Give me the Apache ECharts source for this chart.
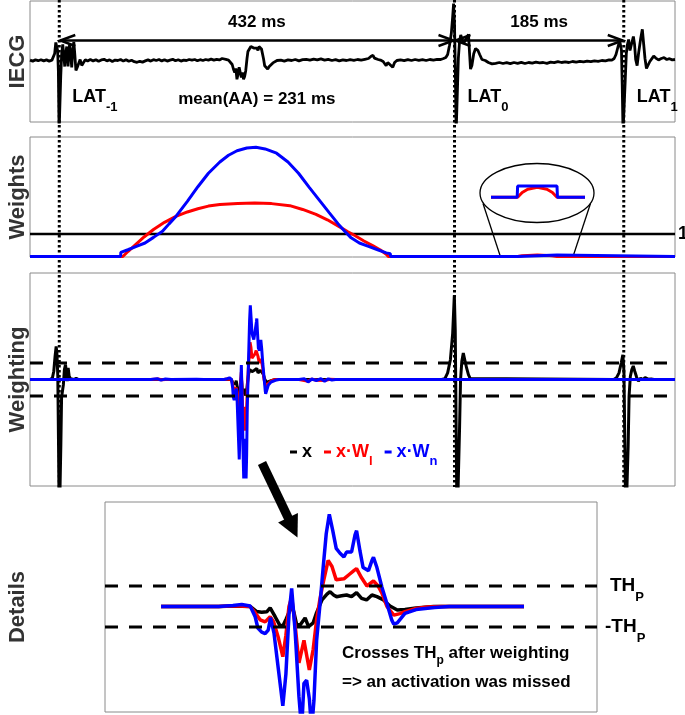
<!DOCTYPE html>
<html><head><meta charset="utf-8">
<script src="https://cdn.jsdelivr.net/npm/echarts@6/dist/echarts.min.js"></script>
<style>html,body{margin:0;padding:0;background:#fff}#c{width:685px;height:715px}</style>
</head><body><div id="c"></div>
<script>
// ---------------- DATA ----------------
const latTimes = [0, 432, 617];           // ms
const latSubs = ['-1', '0', '1'];
const intervals = [432, 185];             // ms
const meanAA = 231;                       // ms
const unityWeight = 1;
const threshold = 1;                      // TH_P (weighting units)

// IECG raw signal [t(ms), amplitude]
const iecg = [
[-32,0.02],[-29,-0.03],[-26,0.03],[-23,-0.01],[-20,0.04],[-17,-0.02],[-14,0.03],[-11,-0.03],[-8,0.02],[-6.5,0.1],
[-5,0.35],[-3.8,0.9],[-2.8,0.95],[-1.8,0.5],[-1,-0.5],[-0.2,-3.6],[0.8,-3.6],[1.6,-0.8],[2.6,0.3],[3.8,0.8],[5,0.2],[6,-0.3],[7,0.35],[8.2,0.7],[9.6,-0.3],[11.2,0.8],[12.4,0.4],[13.6,-0.35],[14.8,0.55],[15.9,0.93],[17,0.3],[18.2,-0.5],[19.6,-0.35],[21.2,-0.15],[22.8,0.05],[24.6,-0.25],[26.5,-0.1],[28.5,0.04],
[31,-0.02],[34,0.05],[37,-0.02],[40,0.04],[43,-0.04],[46,0.03],[49,0.06],[52,-0.02],[55,0.03],[58,-0.05],[61,0.02],[64,0.0],[67,0.05],[70,-0.03],[73,0.04],[76,-0.04],[79,0.01],[82,-0.06],[85,-0.09],[88,-0.04],[91,-0.08],[94,-0.02],[97,0.03],[100,-0.03],[103,0.04],[106,0.0],[109,0.05],[112,-0.02],[115,0.04],[118,-0.03],[121,0.02],[124,0.06],[127,-0.01],[130,0.04],[133,-0.03],[136,0.02],[139,0.0],[142,0.05],[145,0.02],[148,0.05],[151,-0.01],[154,0.04],[157,0.0],[160,0.05],[163,0.02],[166,0.07],[169,0.02],[172,0.06],[175,0.03],[178,0.1],[180,0.14],[182,0.06],
[185,0.02],[187,-0.08],[189,-0.2],[190.5,-0.45],[191.8,-0.6],[193,-0.4],[194.2,-0.94],[195.3,-0.7],[196.6,-0.34],[197.8,-0.6],[199,-0.85],[200.2,-0.6],[201.4,-0.94],[202.6,-0.8],[203.8,-0.51],[205.2,0.1],[206.2,0.45],[207.2,0.55],[208.2,0.45],[209.4,0.7],[211,0.77],[212.6,0.62],[214.4,0.55],[216,0.62],[217.2,0.5],[218.3,0.7],[219.8,0.6],[221,0.58],[222.1,0.5],[223.2,0.1],[224.5,-0.26],[226,-0.3],[227.8,-0.43],[229.5,-0.3],[231.5,-0.2],[233.5,-0.12],[235,-0.08],[238,0.0],[242.2,0.02],
[246,-0.03],[250,0.03],[254,0.0],[258,0.05],[262,-0.02],[266,0.04],[270,0.06],[274,0.02],[278,0.07],[282,0.03],[286,0.08],[290,0.02],[294,0.06],[298,0.0],[302,0.04],[306,-0.02],[310,0.03],[314,0.0],[318,0.04],[322,0.01],[326,0.05],[330,0.02],[334,0.06],[338,0.1],[340.5,0.2],[342.9,0.26],[344.5,0.12],[346.5,0.2],[348.5,0.05],[351,0.02],[354,-0.05],[357.3,-0.26],[359,-0.1],[361,-0.2],[364.5,-0.34],[366.5,-0.1],[369,0.0],[373,0.03],[377,-0.01],[381,0.04],[385,0.0],[389,0.05],[393,0.01],[397,0.04],[401,0.0],[405,0.05],[409,0.02],[413,0.06],[417,0.05],[420,0.1],[422.5,0.15],
[424.5,0.3],[426.5,0.75],[428.5,1.35],[430,2.2],[431,2.85],[432,1.8],[433,-0.8],[433.8,-3.6],[435.3,-3.6],[436.2,0.1],[437.5,0.95],[438.8,1.28],[440.2,1.2],[441.8,0.85],[443.6,1.0],[445.5,0.9],[447.3,1.3],[448.4,0.4],[449.5,-0.43],[451,-0.25],[453,0.34],[455,0.6],[457.5,0.51],[459.5,0.3],[462,0.05],[465.6,0.0],[469,-0.1],[473,-0.17],[477,-0.14],
[481,-0.1],[485,-0.15],[489,-0.11],[493,-0.16],[497,-0.1],[501,-0.14],[505,-0.09],[509,-0.15],[513,-0.1],[517,-0.13],[521,-0.08],[525,-0.12],[529,-0.1],[533,-0.14],[537,-0.08],[541,-0.11],[545,-0.06],[549,-0.1],[553,-0.07],[557,-0.1],[561,-0.05],[565,-0.08],[569,-0.04],[573,-0.07],[577,-0.03],[581,-0.06],[585,-0.02],[589,-0.04],[593,0.0],[597,-0.02],[601,0.03],[604,0.02],
[606.5,0.1],[608.5,0.3],[610.5,0.65],[612.5,1.0],[613.5,1.05],[614.5,0.5],[615.3,-1.2],[616.2,-3.6],[617.6,-3.6],[618.6,-1.0],[619.8,0.35],[621,0.8],[622.3,1.05],[623.8,0.5],[625.5,0.6],[627.5,1.2],[628.8,0.8],[630,0.05],[631.6,-0.26],[633.3,0.4],[635.5,1.1],[637.3,1.56],[638.8,0.8],[640.2,0.1],[641.8,-0.4],[643.5,-0.3],[645.5,-0.05],[647.5,0.0],[649.7,0.22],[652,0.12],[655,0.03],[658,0.1],[661,0.14],[664,0.05],[667,0.09],[670,0.03],[673,0.05]
];

// Weights [t(ms), weight]
const weightsL = [[-32,0],[69.5,0],[75,0.22],[84,0.55],[93,0.88],[103,1.2],[115,1.52],[127.5,1.78],[140,1.98],[151.5,2.12],[163,2.24],[175.5,2.31],[195,2.36],[213.6,2.38],[232,2.35],[252,2.26],[266,2.09],[280.6,1.87],[293,1.63],[304.6,1.36],[315,1.11],[323.5,0.92],[333,0.69],[343,0.47],[351,0.29],[357.4,0.1],[359.6,0],[501,0],[506,0.03],[512,0.05],[522.5,0.062],[533,0.05],[539,0.03],[544,0],[673,0]];
const weightsN = [[-32,0],[67,0],[67.3,0.18],[75,0.3],[85,0.46],[93.7,0.6],[103,0.85],[112.8,1.12],[120,1.45],[127.5,1.78],[140,2.45],[151.5,3.1],[163,3.7],[175.5,4.2],[185,4.5],[194.3,4.7],[205,4.82],[215,4.85],[225,4.78],[237.5,4.59],[250,4.2],[261.5,3.7],[273,3.08],[285.5,2.44],[295,1.95],[304.6,1.46],[312,1.12],[319,0.83],[328,0.6],[338,0.45],[348,0.3],[357.4,0.16],[361.8,0.12],[362.2,0],[500.5,0],[501,0.07],[544,0.07],[544.5,0],[673,0]];

// Weighting signals (units of TH_P)
const xLatPrev = [[-10,0],[-7.5,0.1],[-6,0.5],[-4.6,1.4],[-3.4,2.0],[-2.5,1.5],[-1.6,0.2],[-0.8,-4],[0,-9],[0.9,-9],[1.7,-4],[2.5,-1.1],[3.5,-1.2],[4.5,-0.3],[5.6,0.6],[6.8,0.9],[7.8,0.4],[8.7,-0.1],[9.7,0.7],[10.8,0.2],[12.3,0.05],[14,0.15],[16,0.0],[18.5,0.08],[21,0]];
const xLat0 = [[418,0],[421.5,0.05],[424.5,0.4],[427.5,1.2],[430,2.8],[431.8,5.1],[432.8,3.0],[433.8,-3],[434.8,-9],[436.3,-9],[437.5,-3],[438.6,0],[440,1.1],[441.6,1.6],[443.2,1.2],[445.2,0.7],[447.2,0.3],[449.2,0.06],[451,0]];
const xLat1 = [[606,0],[609,0.1],[611.8,0.4],[614.2,1.0],[616,1.5],[617.2,0.5],[618.2,-4],[619.2,-9],[620.8,-9],[621.8,-4],[622.8,-1],[624.2,0.2],[625.8,0.6],[627.4,0.82],[629,0.5],[631,0.15],[633,-0.1],[635.5,0.08],[638,0.0],[640.3,0.12],[643.5,0.02],[647,0.03],[650,0]];
const xWin = [[165,0],[180,0],[184,0.02],[188.2,0],[189.9,-0.25],[191.2,-0.28],[192.5,-0.26],[193.4,-0.07],[194.7,-0.5],[196,-0.95],[196.8,-0.92],[197.6,-0.6],[198.5,-0.2],[199.0,0.12],[199.6,-0.3],[200.3,-0.88],[201.2,-0.9],[202.5,-0.56],[203.4,-0.98],[204.6,-0.8],[205.5,-0.3],[206.9,0.32],[208.2,0.6],[209,0.72],[210,0.55],[210.7,0.48],[212,0.52],[213.3,0.56],[214.6,0.48],[215.9,0.68],[217.2,0.4],[218.5,0.32],[219.9,0.56],[221.2,0.48],[222.9,0.32],[224.6,0.02],[226.5,-0.17],[228.5,-0.15],[231.4,-0.07],[236,0],[259.5,0]];
const xWlWin = [[165,0],[180,0],[184,0.03],[188.2,0],[189.5,-0.3],[190.8,-0.65],[192.1,-0.75],[193.4,-0.5],[194.3,-0.75],[195.5,-1.5],[196.7,-2.45],[197.5,-1.4],[198.3,0.0],[199.0,0.45],[199.9,-0.9],[200.9,-2.75],[202.2,-1.65],[203.6,-3.1],[204.6,-2.1],[205.5,-0.65],[206.4,0.4],[207.2,1.15],[208.5,2.25],[209.5,1.95],[210.6,1.3],[212.6,1.35],[213.9,1.55],[215.2,1.75],[215.9,1.85],[217.2,1.4],[218.6,1.0],[220.3,1.25],[221.5,1.0],[222.5,0.65],[223.8,0.0],[225.6,-0.42],[227.2,-0.35],[228.5,-0.25],[231.4,-0.1],[234.3,-0.02],[238,0],[259.5,0]];
const xWnWin = [[165,0],[180,0],[183.7,0.05],[186,0.1],[188.2,0.02],[189.5,-0.5],[190.2,-1.05],[191.2,-1.25],[192.1,-1.32],[192.9,-1.15],[193.5,-0.55],[194.4,-1.3],[195.5,-3.0],[196.7,-4.85],[197.5,-3.3],[198.3,-0.4],[199.0,0.88],[199.9,-1.2],[200.9,-4.4],[201.6,-6.0],[202.2,-3.75],[202.9,-3.6],[203.6,-4.5],[204.2,-6.0],[204.8,-4.6],[205.5,-1.65],[206.4,0.15],[207.2,1.9],[208.0,3.55],[208.8,4.5],[209.7,3.7],[210.6,2.84],[211.6,2.6],[212.6,2.42],[213.3,2.66],[214.6,2.66],[215.5,3.5],[215.9,3.7],[216.8,2.7],[217.6,1.9],[219.0,1.75],[219.9,2.24],[220.3,2.4],[221.2,1.9],[222.5,0.94],[223.8,0.15],[225.1,-0.68],[225.6,-0.86],[226.5,-0.8],[228.5,-0.34],[231.4,-0.15],[236.2,-0.05],[240,0],[259.5,0]];
const xWlPre = [[100,0],[108,0.03],[112,-0.02],[116,0],[160,0]];
const xWnPre = [[100,0],[107,0.05],[111,-0.04],[116,0.03],[122,0],[150,0.02],[158,0]];
const xWlTail = [[262,0],[272,-0.1],[276,0.02],[282,-0.04],[290,-0.06],[296,0.02],[302,0],[360,0]];
const xWnTail = [[262,0],[268,0.04],[272,-0.15],[276,0.03],[281,-0.06],[286,0.05],[290,-0.1],[294,0.04],[298,-0.03],[302,0],[362,0]];

// ---------------- CHART ----------------
const FF = '"Liberation Sans", Arial, Helvetica, sans-serif';
const tMin = -32, tMax = 673;
const detMin = 150.4, detMax = 278.5;
const insetMin = 474.1, insetMax = 572.4;

const blackFull = [[tMin,0]].concat(xLatPrev, xWin, xLat0, xLat1, [[tMax,0]]);
const redFull = [[tMin,0]].concat(xWlPre, xWlWin, xWlTail, [[tMax,0]]);
const blueFull = [[tMin,0]].concat(xWnPre, xWnWin, xWnTail, [[tMax,0]]);

const chart = echarts.init(document.getElementById('c'), null, {renderer:'canvas'});

const gridBase = {show:true, borderColor:'#8a8a8a', borderWidth:1, backgroundColor:'rgba(0,0,0,0)', outerBoundsMode:'none', containLabel:false};
const nameStyle = {fontSize:22, fontWeight:'bold', color:'#333', fontFamily:FF};
function yAx(grid, min, max, name, gap) {
  return {gridIndex:grid, type:'value', min:min, max:max, show:true,
    axisLine:{show:false}, axisTick:{show:false}, axisLabel:{show:false}, splitLine:{show:false},
    name:name, nameLocation:'middle', nameRotate:90, nameGap:gap, nameTextStyle:nameStyle};
}
function xAx(grid, min, max) {
  return {gridIndex:grid, type:'value', min:min, max:max, show:false, splitLine:{show:false}};
}
function ln(name, xi, data, color, width, extra) {
  return Object.assign({type:'line', name:name, xAxisIndex:xi, yAxisIndex:xi, data:data,
    symbol:'none', showSymbol:false, clip:true, animation:false, silent:true,
    lineStyle:{color:color, width:width}, itemStyle:{color:color}}, extra||{});
}
const dash = {type:[13,11]};
const thLabelRich = {
  m:{fontSize:19, fontWeight:'bold', fontFamily:FF, color:'#000', verticalAlign:'middle'},
  s:{fontSize:13, fontWeight:'bold', fontFamily:FF, color:'#000', verticalAlign:'middle', padding:[22,0,0,0]}
};

const option = {
  animation:false,
  textStyle:{fontFamily:FF},
  grid:[
    Object.assign({left:30, top:1, width:645, height:121}, gridBase),
    Object.assign({left:30, top:137, width:645, height:120}, gridBase),
    Object.assign({left:30, top:273, width:645, height:213}, gridBase),
    Object.assign({left:105, top:502, width:492, height:210}, gridBase),
    Object.assign({}, gridBase, {left:493, top:180, width:90, height:22, show:false})
  ],
  xAxis:[xAx(0,tMin,tMax), xAx(1,tMin,tMax), xAx(2,tMin,tMax), xAx(3,detMin,detMax), xAx(4,insetMin,insetMax)],
  yAxis:[
    yAx(0,-3.075,2.975,'IECG',1),
    yAx(1,-0.022,5.31,'Weights',1),
    yAx(2,-6.455,6.455,'Weighting',1),
    yAx(3,-5.15,5.1,'Details',76),
    Object.assign(yAx(4,-0.029,0.107,'',0),{show:false})
  ],
  legend:{
    data:['x','x·Wl','x·Wn'], left:285, top:438, orient:'horizontal', icon:'rect',
    itemWidth:7, itemHeight:3, itemGap:12, selectedMode:false,
    formatter:function(n){ if(n==='x') return '{k|x}'; if(n==='x·Wl') return '{r|x·W}{rs|l}'; return '{b|x·W}{bs|n}'; },
    textStyle:{rich:{
      k:{color:'#000', fontSize:18, fontWeight:'bold', fontFamily:FF, verticalAlign:'middle'},
      r:{color:'#ff0000', fontSize:18, fontWeight:'bold', fontFamily:FF, verticalAlign:'middle'},
      rs:{color:'#ff0000', fontSize:13, fontWeight:'bold', fontFamily:FF, verticalAlign:'middle', padding:[18,0,0,0]},
      b:{color:'#0000ff', fontSize:18, fontWeight:'bold', fontFamily:FF, verticalAlign:'middle'},
      bs:{color:'#0000ff', fontSize:13, fontWeight:'bold', fontFamily:FF, verticalAlign:'middle', padding:[18,0,0,0]}
    }}
  },
  series:[
    ln('iecg',0,iecg,'#000',2.8),
    ln('unity',1,[[tMin,unityWeight],[tMax,unityWeight]],'#000',2.6,{
      endLabel:{show:true, formatter:'1', fontSize:18, fontWeight:'bold', color:'#000', fontFamily:FF, distance:3}}),
    ln('Wl',1,weightsL,'#ff0000',3),
    ln('Wn',1,weightsN,'#0000ff',3),
    ln('Wl-inset',4,weightsL,'#ff0000',3),
    ln('Wn-inset',4,weightsN,'#0000ff',3),
    ln('x',2,blackFull,'#000',3),
    ln('x·Wl',2,redFull,'#ff0000',3),
    ln('x·Wn',2,blueFull,'#0000ff',3),
    ln('thp',2,[[tMin,threshold],[tMax,threshold]],'#000',3,{lineStyle:Object.assign({color:'#000',width:3},dash)}),
    ln('thn',2,[[tMin,-threshold],[tMax,-threshold]],'#000',3,{lineStyle:Object.assign({color:'#000',width:3},dash)}),
    ln('x',3,xWin,'#000',3.5),
    ln('x·Wl',3,xWlWin,'#ff0000',3.5),
    ln('x·Wn',3,xWnWin,'#0000ff',3.5),
    ln('dthp',3,[[detMin,threshold],[detMax,threshold]],'#000',3,{lineStyle:Object.assign({color:'#000',width:3},dash),
      endLabel:{show:true, distance:13, formatter:'{m|TH}{s|P}', rich:thLabelRich}}),
    ln('dthn',3,[[detMin,-threshold],[detMax,-threshold]],'#000',3,{lineStyle:Object.assign({color:'#000',width:3},dash),
      endLabel:{show:true, distance:8, formatter:'{m|-TH}{s|P}', rich:thLabelRich}})
  ]
};
chart.setOption(option);

// ---------- annotations positioned through the axes ----------
const px = t => chart.convertToPixel({xAxisIndex:0}, t);
const latPx = latTimes.map(px);
const yArrow = chart.convertToPixel({yAxisIndex:0}, 1.0);
const g = [];
const txt = (x, y, text, size, align, rich) => ({type:'text', z:5, style:{x:x, y:y, text:text,
  fontSize:size, fontWeight:'bold', fontFamily:FF, fill:'#000', align:align||'center', verticalAlign:'middle', rich:rich}});
latPx.forEach(x => g.push({type:'line', z:1, shape:{x1:x, y1:0, x2:x, y2:487},
  style:{stroke:'#000', lineWidth:3, lineDash:[2.5,2.5]}}));
for (let i = 0; i < 2; i++) {
  const a = latPx[i], b = latPx[i+1];
  g.push({type:'line', z:5, shape:{x1:a+1, y1:yArrow, x2:b-1, y2:yArrow}, style:{stroke:'#000', lineWidth:2.5}});
  g.push({type:'polyline', z:5, shape:{points:[[a+16,yArrow-5.5],[a+1,yArrow],[a+16,yArrow+5.5]]}, style:{stroke:'#000', lineWidth:2.5, fill:null}});
  g.push({type:'polyline', z:5, shape:{points:[[b-16,yArrow-5.5],[b-1,yArrow],[b-16,yArrow+5.5]]}, style:{stroke:'#000', lineWidth:2.5, fill:null}});
  g.push(txt((a+b)/2, 22, intervals[i] + ' ms', 17));
}
g.push(txt((latPx[0]+latPx[1])/2, 99, 'mean(AA) = ' + meanAA + ' ms', 17));
const latRich = {
  m:{fontSize:18, fontWeight:'bold', fontFamily:FF, fill:'#000', verticalAlign:'middle'},
  s:{fontSize:13, fontWeight:'bold', fontFamily:FF, fill:'#000', verticalAlign:'middle', padding:[20,0,0,0]}
};
latPx.forEach((x, i) => g.push(txt(x+13, 97, '{m|LAT}{s|' + latSubs[i] + '}', 18, 'left', latRich)));
// magnifier
g.push({type:'ellipse', z:1, shape:{cx:537, cy:193, rx:57, ry:29.5}, style:{stroke:'#000', lineWidth:1.3, fill:'none'}});
g.push({type:'line', z:1, shape:{x1:483, y1:203.5, x2:500.7, y2:257.5}, style:{stroke:'#000', lineWidth:1.3}});
g.push({type:'line', z:1, shape:{x1:590.5, y1:203.5, x2:572.7, y2:257.5}, style:{stroke:'#000', lineWidth:1.3}});
// big arrow
g.push({type:'line', z:5, shape:{x1:262, y1:463, x2:288.5, y2:518.5}, style:{stroke:'#000', lineWidth:9}});
g.push({type:'polygon', z:5, shape:{points:[[297.5,537.6],[278.1,522.4],[297.9,513.0]]}, style:{fill:'#000'}});
// note text
const noteRich = {
  m:{fontSize:17, fontWeight:'bold', fontFamily:FF, fill:'#000', verticalAlign:'middle'},
  s:{fontSize:12, fontWeight:'bold', fontFamily:FF, fill:'#000', verticalAlign:'middle', padding:[15,0,0,0]}
};
g.push(txt(342, 653, '{m|Crosses TH}{s|p}{m| after weighting}', 17, 'left', noteRich));
g.push(txt(342, 682, '=> an activation was missed', 17, 'left'));
chart.setOption({graphic:{elements:g}});
</script></body></html>
